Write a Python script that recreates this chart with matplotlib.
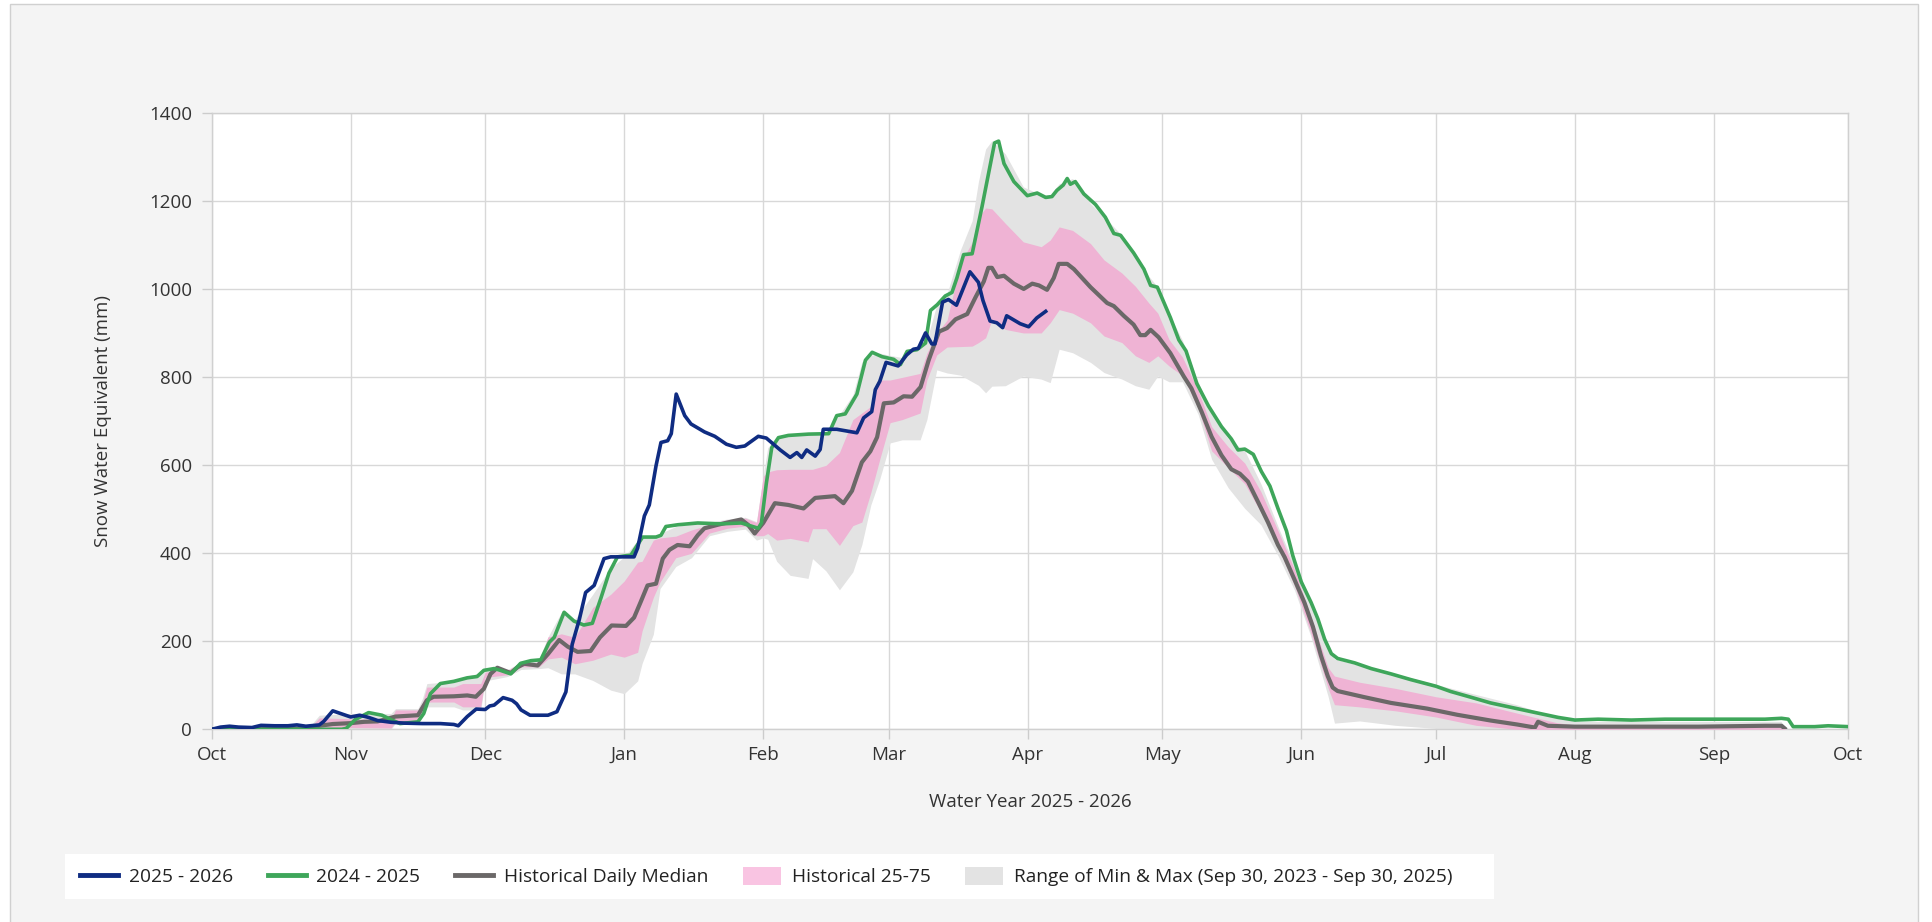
import numpy as np
from matplotlib import pyplot as plt
from matplotlib.patches import Rectangle, Patch
from matplotlib.lines import Line2D

plt.rcParams['font.family'] = ['Open Sans', 'DejaVu Sans']

# x = day of water year (0 = Oct 1 2025)
month_days = [0, 31, 61, 92, 123, 151, 182, 212, 243, 273, 304, 335, 365]
month_labels = ['Oct', 'Nov', 'Dec', 'Jan', 'Feb', 'Mar', 'Apr', 'May', 'Jun', 'Jul', 'Aug', 'Sep', 'Oct']

# 2025 - 2026
cur_day = [0, 2, 4, 6, 9, 11, 14, 17, 19, 21, 23, 24, 25, 27, 29, 31, 33, 35, 37, 40, 43, 47, 51, 54, 55,
           57, 59, 61, 62, 63, 65, 67, 68, 69, 71, 75, 77, 79, 80.4, 82, 83.4, 85.3, 87.5, 89, 94.2, 95,
           96.5, 97.6, 99.1, 100.2, 101.7, 102.5, 103.6, 105.5, 106.9, 109.9, 112.2, 114.8, 117, 118.9,
           121.9, 123.7, 124.5, 126.8, 129, 130.5, 131.6, 132.7, 134.6, 135.7, 136.4, 139.4, 143.9, 145.4,
           147.2, 148, 149, 150.4, 153.1, 155, 156.5, 157.6, 159.2, 160.6, 161.3, 163, 164.3, 166.1, 169.1,
           171, 172, 173.6, 175.1, 176.4, 177.3, 180.3, 182.2, 184, 186]
cur_swe = [0, 5, 7, 5, 4, 9, 8, 8, 10, 7, 9, 10, 18, 42, 35, 28, 32, 27, 20, 16, 14, 13, 13, 11, 8,
           29, 46, 45, 53, 55, 72, 66, 58, 44, 32, 32, 40, 85, 193, 250, 311, 327, 388, 392, 392, 412,
           485, 510, 599, 652, 656, 672, 762, 713, 694, 676, 666, 648, 641, 644,
           666, 662, 655, 635, 618, 629, 618, 635, 621, 636, 682, 682, 674, 708,
           722, 772, 791, 834, 826, 851, 864, 866, 901, 876, 876, 971, 977, 964, 1040,
           1016, 975, 928, 924, 913, 940, 922, 915, 935, 950]

# 2024 - 2025
prev_day = [0, 20, 29, 30, 32, 35, 38, 40, 42, 46, 47.3, 48.8, 51, 54, 57, 59.2, 60.7, 63, 64.4, 66.7,
            68.9, 71.2, 73.4, 75.3, 76.4, 78.6, 80.8, 83, 84.9, 86.8, 88.6, 90.5, 93.5, 96.1, 99.1, 100.2,
            101.3, 104, 108.4, 113.7, 118.1, 121.9, 122.6, 123.7, 124.9, 126.4, 128.6, 133.1, 137.6, 139.4,
            141.3, 143.9, 145.8, 147.3, 149.5, 152.1, 153.6, 155.1, 157.3, 159.2, 160.3, 161.8, 163.6, 165.1,
            166.2, 167.7, 169.6, 171.8, 173.7, 174.6, 175.5, 176.7, 178.9, 181.9, 184.1, 186, 187.4, 188.5,
            189.9, 190.8, 191.5, 192.6, 194.5, 197.1, 199.3, 201.2, 202.7, 205.6, 207.9, 209.4, 210.9, 213.8,
            215.7, 217.3, 219.7, 222.3, 225.2, 227.4, 228.9, 230.4, 232.3, 234.1, 236, 237.8, 239.7, 241.1,
            243, 245.2, 246.7, 248.2, 249.7, 251.1, 254.9, 258.6, 263, 267.4, 273, 276.3, 280.8, 285.2, 291.1,
            294.3, 300.3, 304, 309.2, 316.6, 324.1, 331.5, 339, 346.4, 350.1, 351.6, 352.7, 357.5, 360.5, 365]
prev_swe = [0, 0, 0, 2, 22, 38, 32, 22, 13, 17, 36, 81, 104, 109, 117, 120, 134, 138, 134, 126,
            150, 156, 158, 198, 209, 266, 246, 237, 241, 298, 355, 392, 396, 437, 437, 441,
            461, 465, 469, 467, 469, 457, 469, 559, 640, 663, 668, 671, 672, 713,
            717, 762, 839, 857, 847, 841, 829, 859, 863, 878, 952, 965, 985, 993,
            1026, 1079, 1081, 1188, 1286, 1333, 1337, 1286, 1245, 1213, 1219, 1209, 1211, 1225,
            1237, 1252, 1239, 1245, 1217, 1193, 1164, 1127, 1123, 1083, 1046, 1009, 1005, 936,
            885, 860, 786, 735, 688, 660, 635, 637, 625, 586, 553, 502, 451, 395,
            335, 288, 251, 205, 172, 161, 151, 138, 126, 113, 98, 86, 73, 60, 47,
            40, 27, 21, 23, 21, 23, 23, 23, 23, 25, 23, 6, 6, 8, 6]

# Historical daily median
med_day = [0, 22, 24, 27, 31, 34, 37, 41, 46, 48, 49.5, 54, 57, 58.9, 60.7, 62.2, 63.7, 66.7, 68.2, 69.7,
           72.7, 75, 77.5, 79.4, 81.6, 84.5, 86.6, 89.2, 92.4, 94.2, 95.7, 97.2, 99.1, 100.6, 102.1, 103.9,
           106.6, 108.4, 109.9, 112.9, 116.3, 118.1, 119.6, 121.1, 123, 125.6, 128.6, 132, 134.6, 136.8, 139,
           140.9, 142.8, 145, 146.9, 148.4, 149.9, 152.1, 154.3, 156.2, 158.1, 159.9, 162.2, 164, 165.9,
           168.5, 170.3, 172.2, 173.2, 174, 175.2, 176.7, 178.9, 181.1, 183, 184.5, 186.3, 187.8, 188.9,
           190.8, 192.3, 196, 199.7, 201.2, 203.4, 205.6, 207.1, 208.2, 209.4, 211.2, 213.8, 216.8, 218.5,
           220.8, 223, 225.2, 227.4, 229.3, 231.1, 233.4, 235.6, 237.8, 239.3, 241.5, 243.7, 245.6, 247.4,
           248.9, 250, 251.1, 257.1, 263, 271.1, 277.8, 285.2, 291.1, 295.1, 295.8, 298, 304, 316.6, 331.5,
           346.4, 350.1, 350.8]
med_swe = [0, 2, 8, 12, 14, 17, 18, 29, 32, 66, 74, 75, 77, 74, 92, 126, 140, 128, 141, 149,
           145, 171, 203, 188, 176, 178, 209, 236, 235, 254, 290, 327, 331, 388, 408, 419,
           416, 441, 457, 465, 473, 477, 465, 445, 469, 514, 510, 502, 526, 528, 530,
           514, 542, 607, 632, 664, 741, 743, 757, 756, 778, 839, 904, 912, 932,
           944, 981, 1018, 1049, 1049, 1028, 1031, 1013, 1001, 1013, 1009, 999, 1026, 1058,
           1058, 1046, 1005, 969, 962, 940, 920, 896, 896, 908, 891, 855, 802, 775,
           721, 665, 623, 591, 581, 563, 516, 470, 419, 391, 340, 288, 233, 167,
           121, 95, 87, 73, 60, 47, 33, 20, 11, 4, 17, 8, 6, 6, 6,
           8, 8, 2]

# Historical bands (25-75 and min-max)
band_day = [0, 21, 22, 24, 31, 40, 41, 46, 47, 48, 54, 56, 60, 61, 66, 69, 73, 75, 78, 81, 85, 89, 92, 95,
            96, 98.5, 100, 103.5, 107, 111, 115, 119, 121.5, 123, 124, 126, 129, 133, 134, 137, 140, 143,
            145, 147, 149, 151.3, 154, 158, 159.5, 161.7, 164, 167, 169.6, 171, 172.6, 174, 177, 181, 185,
            187, 189, 192, 196, 199, 203, 206, 209, 211, 213.5, 216.5, 220, 223, 226.7, 230.4, 234, 238,
            241.5, 245, 249, 250.4, 256, 264, 273, 282, 291, 300, 304, 350, 351]
min_swe = [0, 0, 0, 0, 0, 0, 14, 14, 30, 51, 51, 44, 44, 110, 120, 136, 138, 140, 126, 126, 111, 89, 81, 110,
           150, 216, 320, 370, 390, 440, 450, 455, 430, 435, 432, 382, 350, 343, 388, 360, 317, 358,
           420, 510, 569, 651, 658, 658, 704, 817, 810, 805, 790, 782, 765, 780, 781, 803, 796,
           788, 864, 856, 834, 811, 796, 781, 773, 803, 790, 790, 716, 614, 549, 502, 465, 391,
           316, 215, 74, 14, 19, 9, 2, 0, 0, 0, 0, 0, 0]
p25_swe = [0, 0, 0, 2, 4, 3, 17, 17, 40, 62, 62, 51, 51, 118, 124, 142, 142, 160, 164, 149, 157, 171, 164, 175,
           224, 300, 335, 390, 400, 446, 457, 462, 440, 440, 445, 430, 434, 426, 456, 456, 418, 463,
           471, 538, 614, 697, 704, 719, 794, 851, 869, 870, 871, 879, 890, 931, 909, 901, 901,
           924, 954, 946, 924, 894, 879, 849, 834, 849, 826, 804, 730, 633, 595, 558, 493, 409,
           326, 223, 93, 56, 51, 42, 28, 9, 0, 0, 0, 0, 0]
p75_swe = [0, 0, 5, 26, 24, 22, 44, 44, 60, 96, 96, 104, 104, 130, 134, 152, 152, 210, 217, 209, 277, 307, 337, 380,
           382, 430, 435, 439, 453, 465, 476, 480, 470, 575, 585, 590, 591, 591, 591, 600, 629, 704,
           719, 734, 794, 794, 800, 809, 855, 900, 930, 1060, 1107, 1164, 1185, 1183, 1150, 1108, 1097,
           1112, 1142, 1134, 1104, 1067, 1037, 1007, 969, 946, 886, 846, 770, 688, 642, 605, 540, 447,
           363, 260, 140, 121, 107, 93, 74, 60, 37, 15, 10, 10, 0]
max_swe = [0, 0, 8, 32, 36, 36, 47, 47, 70, 104, 109, 119, 128, 136, 136, 152, 160, 210, 266, 250, 307, 367, 392, 430,
           437, 440, 445, 461, 467, 470, 478, 482, 472, 575, 640, 663, 668, 671, 671, 675, 715, 760,
           835, 850, 855, 850, 845, 868, 885, 965, 990, 1090, 1156, 1245, 1319, 1338, 1308, 1233, 1215,
           1215, 1240, 1252, 1195, 1165, 1123, 1082, 1030, 1005, 945, 884, 790, 716, 660, 633, 558, 456,
           372, 290, 180, 160, 145, 126, 102, 79, 56, 27, 18, 18, 0]

c_cur = '#0f2c82'
c_prev = '#3ea65a'
c_med = '#6b6868'
c_pink = '#efb3d4'
c_gray = '#e3e3e3'

fig = plt.figure(figsize=(19.33, 9.22), dpi=100, facecolor='white')
fig.patches.append(Rectangle((10 / 1933, -0.01), 1908 / 1933, 1 - 4 / 922 + 0.01, transform=fig.transFigure,
                             facecolor='#f4f4f4', edgecolor='#d0d0d0', lw=1, zorder=-10))

ax = fig.add_axes([0.1095, 0.209, 0.8467, 0.668])
ax.set_facecolor('white')

ax.fill_between(band_day, min_swe, max_swe, color=c_gray, lw=0, zorder=2)
ax.fill_between(band_day, p25_swe, p75_swe, color=c_pink, lw=0, zorder=3)
ax.plot(med_day, med_swe, color=c_med, lw=3.0, zorder=4, solid_joinstyle='round')
ax.plot(prev_day, prev_swe, color=c_prev, lw=2.6, zorder=5, solid_joinstyle='round')
ax.plot(cur_day, cur_swe, color=c_cur, lw=2.6, zorder=6, solid_joinstyle='round')

ax.set_xlim(0, 365)
ax.set_ylim(0, 1400)
ax.set_xticks(month_days)
ax.set_xticklabels(month_labels)
ax.set_yticks(range(0, 1401, 200))
ax.grid(True, color='#d8d8d8', lw=1, zorder=0)
ax.set_axisbelow(True)
for s in ax.spines.values():
    s.set_color('#d0d0d0')
    s.set_linewidth(1)
ax.tick_params(axis='both', colors='#cccccc', labelcolor='#333333', labelsize=13.5, length=7, width=1)
ax.tick_params(axis='x', pad=5)
ax.tick_params(axis='y', pad=7)

ax.set_xlabel('Water Year 2025 - 2026', fontsize=13.5, color='#333333', labelpad=21)
ax.set_ylabel('Snow Water Equivalent (mm)', fontsize=13.5, color='#333333', labelpad=27)

# legend box
fig.patches.append(Rectangle((65 / 1933, 1 - 899 / 922), (1494 - 65) / 1933, 45 / 922, transform=fig.transFigure,
                             facecolor='white', edgecolor='none', zorder=-5))
handles = [Line2D([], [], color=c_cur, lw=3.5),
           Line2D([], [], color=c_prev, lw=3.5),
           Line2D([], [], color=c_med, lw=3.5),
           Patch(facecolor='#f9c4e2', edgecolor='none'),
           Patch(facecolor=c_gray, edgecolor='none')]
labels = ['2025 - 2026', '2024 - 2025', 'Historical Daily Median', 'Historical 25-75',
          'Range of Min & Max (Sep 30, 2023 - Sep 30, 2025)']
fig.legend(handles, labels, loc='center left', bbox_to_anchor=(80 / 1933, 1 - 876.5 / 922), ncol=5,
           frameon=False, fontsize=13.8, handlelength=2.0, handleheight=1.1, handletextpad=0.55,
           columnspacing=1.8, labelcolor='#222222', borderaxespad=0, borderpad=0)

fig.savefig('out.png', dpi=100, facecolor=fig.get_facecolor())
